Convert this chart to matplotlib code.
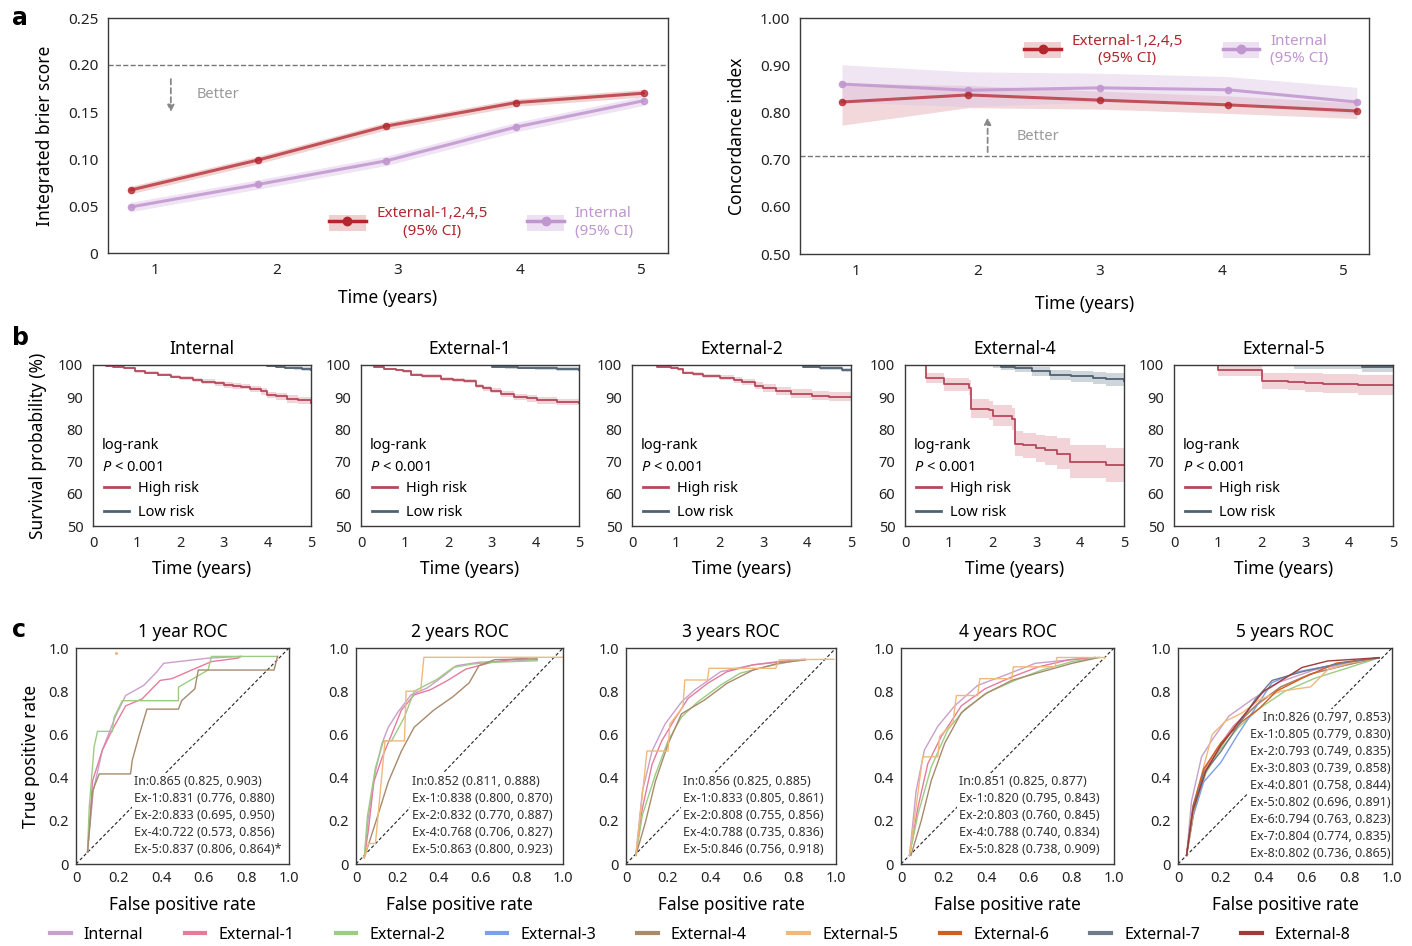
import matplotlib
matplotlib.use('Agg')
import matplotlib.pyplot as plt
from matplotlib.patches import Patch
from matplotlib.lines import Line2D

W, H = 1412, 946
plt.rcParams['font.family'] = ['Noto Sans', 'DejaVu Sans']
plt.rcParams['font.size'] = 11
plt.rcParams['mathtext.fontset'] = 'custom'
plt.rcParams['mathtext.it'] = 'Noto Sans:italic'
plt.rcParams['mathtext.rm'] = 'Noto Sans'

# ---- panel a : integrated brier score / concordance index ----
ibs_time = [0.8, 1.85, 2.9, 3.97, 5.02]
ibs_ext = [0.067, 0.099, 0.135, 0.160, 0.170]
ibs_ext_lo = [0.063, 0.095, 0.131, 0.156, 0.166]
ibs_ext_hi = [0.071, 0.103, 0.139, 0.164, 0.174]
ibs_int = [0.049, 0.073, 0.098, 0.134, 0.162]
ibs_int_lo = [0.044, 0.068, 0.093, 0.129, 0.157]
ibs_int_hi = [0.054, 0.078, 0.103, 0.139, 0.167]

cidx_time = [0.885, 1.92, 3.0, 4.05, 5.11]
cidx_ext = [0.822, 0.837, 0.826, 0.816, 0.803]
cidx_ext_lo = [0.773, 0.810, 0.807, 0.798, 0.787]
cidx_ext_hi = [0.862, 0.857, 0.845, 0.835, 0.820]
cidx_int = [0.860, 0.847, 0.852, 0.848, 0.822]
cidx_int_lo = [0.822, 0.812, 0.822, 0.822, 0.795]
cidx_int_hi = [0.901, 0.886, 0.883, 0.876, 0.853]

# ---- panel b : Kaplan-Meier curves (time, survival %, CI half width) ----
km_titles = ['Internal', 'External-1', 'External-2', 'External-4', 'External-5']
km_high_t = [
    [0, 0.3, 0.45, 0.7, 0.96, 1.2, 1.5, 1.8, 2.0, 2.3, 2.5, 2.8, 3.0, 3.2, 3.4, 3.6, 3.85, 4.0, 4.2, 4.46, 4.7, 5.0],
    [0, 0.3, 0.53, 0.8, 0.96, 1.14, 1.4, 1.84, 2.1, 2.37, 2.63, 2.8, 2.98, 3.2, 3.5, 3.8, 4.04, 4.5, 5.0],
    [0, 0.57, 0.9, 1.04, 1.16, 1.4, 1.63, 2.0, 2.34, 2.5, 2.81, 3.0, 3.29, 3.64, 4.1, 4.5, 5.0],
    [0, 0.47, 0.9, 1.45, 1.5, 1.92, 2.0, 2.45, 2.5, 2.7, 2.98, 3.2, 3.46, 3.76, 4.4, 4.6, 5.0],
    [0, 1.0, 2.0, 2.6, 3.0, 3.4, 4.2, 5.0],
]
km_high_s = [
    [100, 99.7, 99.4, 99.0, 98.0, 97.6, 97.0, 96.4, 95.9, 95.3, 94.8, 94.3, 93.8, 93.5, 93.3, 92.6, 91.8, 90.7, 90.3, 89.5, 89.0, 88.1],
    [100, 99.4, 98.7, 98.5, 98.0, 97.0, 96.6, 95.7, 95.4, 95.0, 93.5, 92.8, 92.0, 91.0, 90.0, 89.6, 89.0, 88.5, 88.3],
    [100, 99.5, 99.2, 98.7, 97.6, 97.2, 96.6, 96.0, 95.3, 94.8, 93.5, 92.8, 92.0, 91.0, 90.5, 90.2, 90.0],
    [100, 96.0, 94.0, 93.0, 86.4, 85.9, 84.3, 83.3, 75.6, 75.0, 74.1, 73.5, 72.5, 70.0, 70.0, 69.0, 69.0],
    [100, 98.3, 95.1, 94.8, 94.5, 94.2, 93.8, 93.8],
]
km_high_ci = [
    [0, 0.2, 0.3, 0.35, 0.4, 0.45, 0.5, 0.55, 0.6, 0.65, 0.7, 0.75, 0.8, 0.85, 0.9, 0.95, 1.0, 1.05, 1.1, 1.15, 1.2, 1.2],
    [0, 0.2, 0.3, 0.35, 0.4, 0.45, 0.5, 0.55, 0.6, 0.65, 0.7, 0.8, 0.85, 0.9, 0.95, 1.0, 1.0, 1.05, 1.1],
    [0, 0.3, 0.4, 0.45, 0.55, 0.6, 0.7, 0.8, 0.9, 1.0, 1.1, 1.2, 1.3, 1.4, 1.5, 1.5, 1.5],
    [0, 1.5, 2.0, 2.3, 3.0, 3.0, 3.3, 3.5, 4.0, 4.0, 4.3, 4.5, 4.8, 5.0, 5.0, 5.2, 5.2],
    [0, 1.7, 2.5, 2.7, 2.9, 3.0, 3.2, 3.2],
]
km_low_t = [
    [0, 3.8, 4.0, 4.2, 4.4, 4.6, 4.8, 5.0],
    [0, 2.9, 3.0, 3.3, 3.6, 4.0, 4.5, 5.0],
    [0, 3.5, 3.9, 4.3, 4.8, 5.0],
    [0, 2.0, 2.2, 2.5, 2.9, 3.3, 3.8, 4.3, 4.6, 5.0],
    [0, 2.75, 4.3, 5.0],
]
km_low_s = [
    [100, 100, 99.8, 99.5, 99.2, 99.0, 98.8, 98.5],
    [100, 100, 99.5, 99.3, 99.2, 99.0, 98.7, 98.5],
    [100, 100, 99.5, 99.0, 98.5, 98.5],
    [100, 100, 99.5, 99.0, 98.0, 97.0, 96.5, 96.0, 95.5, 95.0],
    [100, 100, 99.3, 99.3],
]
km_low_ci = [
    [0, 0.3, 0.4, 0.5, 0.55, 0.6, 0.65, 0.7],
    [0, 0.3, 0.4, 0.45, 0.5, 0.55, 0.6, 0.65],
    [0, 0.4, 0.5, 0.6, 0.7, 0.7],
    [0, 1.0, 1.2, 1.3, 1.5, 1.6, 1.7, 1.8, 1.9, 2.0],
    [0, 1.2, 1.6, 1.6],
]

# ---- panel c : time-dependent ROC curves ----
roc_titles = ['1 year ROC', '2 years ROC', '3 years ROC', '4 years ROC', '5 years ROC']
cohorts = ['Internal', 'External-1', 'External-2', 'External-3', 'External-4',
           'External-5', 'External-6', 'External-7', 'External-8']
cohort_colors = ['#c8a0cc', '#e57c9c', '#9ccc84', '#7b9fe8', '#a88a6c',
                 '#f0b97c', '#d2601c', '#6f7a8a', '#9e3b3b']

roc1_in = ([0.054, 0.081, 0.124, 0.186, 0.233, 0.318, 0.380, 0.411, 0.620, 0.775],
           [0.055, 0.339, 0.528, 0.685, 0.780, 0.827, 0.890, 0.929, 0.953, 0.961])
roc1_ex1 = ([0.054, 0.078, 0.124, 0.171, 0.233, 0.310, 0.395, 0.450, 0.543, 0.636, 0.760, 0.775],
            [0.055, 0.386, 0.528, 0.622, 0.732, 0.764, 0.850, 0.858, 0.898, 0.937, 0.953, 0.961])
roc1_ex2 = ([0.054, 0.062, 0.085, 0.101, 0.171, 0.178, 0.217, 0.481, 0.481, 0.620, 0.636, 0.946],
            [0.055, 0.260, 0.543, 0.614, 0.614, 0.677, 0.756, 0.756, 0.819, 0.898, 0.961, 0.961])
roc1_ex4 = ([0.054, 0.078, 0.109, 0.256, 0.264, 0.295, 0.333, 0.481, 0.496, 0.558, 0.574, 0.930, 0.946],
            [0.055, 0.339, 0.417, 0.417, 0.480, 0.591, 0.717, 0.717, 0.756, 0.811, 0.898, 0.898, 0.961])
roc1_ex5 = ([0.19], [0.975])

roc2_in = ([0.04, 0.06, 0.094, 0.125, 0.156, 0.203, 0.266, 0.344, 0.422, 0.484, 0.594, 0.78, 0.875],
           [0.03, 0.22, 0.43, 0.557, 0.633, 0.704, 0.783, 0.815, 0.87, 0.918, 0.934, 0.941, 0.946])
roc2_ex1 = ([0.04, 0.06, 0.086, 0.125, 0.172, 0.219, 0.281, 0.36, 0.4375, 0.53, 0.656, 0.78, 0.83],
            [0.03, 0.158, 0.38, 0.49, 0.60, 0.712, 0.783, 0.807, 0.847, 0.902, 0.934, 0.95, 0.953])
roc2_ex2 = ([0.04, 0.055, 0.094, 0.133, 0.172, 0.234, 0.281, 0.39, 0.47, 0.5625, 0.67, 0.875],
            [0.03, 0.22, 0.446, 0.57, 0.57, 0.68, 0.80, 0.854, 0.91, 0.926, 0.934, 0.941])
roc2_ex4 = ([0.04, 0.094, 0.156, 0.219, 0.281, 0.375, 0.469, 0.547, 0.594, 0.67, 0.875],
            [0.03, 0.19, 0.38, 0.522, 0.633, 0.712, 0.775, 0.839, 0.918, 0.946, 0.95])
roc2_ex5 = ([0.04, 0.06, 0.094, 0.14, 0.234, 0.242, 0.3125, 0.32, 0.328, 1.0],
            [0.03, 0.095, 0.095, 0.57, 0.57, 0.80, 0.80, 0.878, 0.957, 0.957])

roc3_in = ([0.047, 0.078, 0.124, 0.186, 0.264, 0.326, 0.45, 0.605, 0.76, 0.853],
           [0.04, 0.336, 0.523, 0.648, 0.75, 0.805, 0.89, 0.922, 0.9375, 0.945])
roc3_ex1 = ([0.047, 0.078, 0.124, 0.17, 0.233, 0.295, 0.388, 0.48, 0.605, 0.729, 0.853],
            [0.04, 0.258, 0.461, 0.57, 0.672, 0.766, 0.836, 0.89, 0.922, 0.9375, 0.948])
roc3_ex2 = ([0.047, 0.078, 0.14, 0.2, 0.264, 0.341, 0.45, 0.543, 0.667, 0.822],
            [0.04, 0.227, 0.414, 0.57, 0.68, 0.75, 0.828, 0.883, 0.914, 0.945])
roc3_ex4 = ([0.047, 0.093, 0.14, 0.2, 0.264, 0.372, 0.48, 0.605, 0.729, 0.853],
            [0.04, 0.195, 0.383, 0.555, 0.695, 0.758, 0.836, 0.898, 0.93, 0.945])
roc3_ex5 = ([0.047, 0.1, 0.2, 0.209, 0.271, 0.28, 0.388, 0.395, 0.713, 0.729, 0.99],
            [0.04, 0.523, 0.523, 0.648, 0.727, 0.852, 0.852, 0.906, 0.906, 0.945, 0.948])

roc4_in = ([0.04, 0.071, 0.11, 0.173, 0.252, 0.36, 0.488, 0.63, 0.787, 0.913],
           [0.04, 0.339, 0.528, 0.638, 0.732, 0.827, 0.874, 0.929, 0.945, 0.956])
roc4_ex1 = ([0.04, 0.079, 0.126, 0.189, 0.283, 0.394, 0.52, 0.646, 0.787, 0.913],
            [0.04, 0.26, 0.465, 0.59, 0.732, 0.811, 0.866, 0.913, 0.945, 0.956])
roc4_ex2 = ([0.04, 0.079, 0.142, 0.22, 0.3, 0.409, 0.535, 0.661, 0.803, 0.929],
            [0.04, 0.228, 0.449, 0.622, 0.717, 0.795, 0.85, 0.898, 0.937, 0.956])
roc4_ex4 = ([0.047, 0.094, 0.142, 0.205, 0.283, 0.394, 0.52, 0.661, 0.803, 0.929],
            [0.04, 0.197, 0.386, 0.559, 0.70, 0.787, 0.85, 0.89, 0.929, 0.956])
roc4_ex5 = ([0.04, 0.102, 0.173, 0.181, 0.244, 0.26, 0.36, 0.37, 0.52, 0.528, 0.724, 0.732, 0.96],
            [0.04, 0.496, 0.496, 0.59, 0.654, 0.78, 0.78, 0.858, 0.858, 0.913, 0.913, 0.956, 0.956])

roc5_in = ([0.04, 0.063, 0.11, 0.16, 0.238, 0.35, 0.476, 0.635, 0.794, 0.937],
           [0.04, 0.29, 0.496, 0.575, 0.685, 0.764, 0.843, 0.898, 0.929, 0.956])
roc5_ex1 = ([0.04, 0.07, 0.12, 0.18, 0.26, 0.36, 0.48, 0.62, 0.78, 0.94],
            [0.04, 0.25, 0.43, 0.53, 0.64, 0.73, 0.82, 0.88, 0.92, 0.955])
roc5_ex2 = ([0.04, 0.075, 0.13, 0.19, 0.28, 0.38, 0.5, 0.64, 0.8, 0.94],
            [0.04, 0.24, 0.42, 0.52, 0.63, 0.72, 0.80, 0.86, 0.91, 0.955])
roc5_ex3 = ([0.04, 0.07, 0.12, 0.2, 0.28, 0.36, 0.44, 0.56, 0.72, 0.94],
            [0.04, 0.22, 0.38, 0.47, 0.6, 0.72, 0.84, 0.89, 0.92, 0.955])
roc5_ex4 = ([0.04, 0.075, 0.12, 0.19, 0.27, 0.37, 0.48, 0.62, 0.78, 0.94],
            [0.04, 0.25, 0.42, 0.53, 0.64, 0.74, 0.82, 0.88, 0.92, 0.955])
roc5_ex5 = ([0.04, 0.08, 0.12, 0.16, 0.22, 0.3, 0.38, 0.48, 0.62, 0.7, 0.8, 0.94],
            [0.04, 0.3, 0.45, 0.6, 0.66, 0.7, 0.76, 0.8, 0.82, 0.9, 0.93, 0.955])
roc5_ex6 = ([0.04, 0.07, 0.12, 0.2, 0.3, 0.38, 0.46, 0.58, 0.74, 0.94],
            [0.04, 0.27, 0.44, 0.56, 0.66, 0.72, 0.8, 0.86, 0.93, 0.955])
roc5_ex7 = ([0.04, 0.07, 0.12, 0.2, 0.28, 0.36, 0.44, 0.58, 0.76, 0.94],
            [0.04, 0.26, 0.42, 0.52, 0.64, 0.76, 0.85, 0.89, 0.93, 0.955])
roc5_ex8 = ([0.04, 0.07, 0.13, 0.2, 0.3, 0.4, 0.5, 0.58, 0.7, 0.94],
            [0.04, 0.25, 0.43, 0.55, 0.68, 0.8, 0.86, 0.91, 0.94, 0.955])

roc_curves = [
    [(0, roc1_in), (1, roc1_ex1), (2, roc1_ex2), (4, roc1_ex4), (5, roc1_ex5)],
    [(0, roc2_in), (1, roc2_ex1), (2, roc2_ex2), (4, roc2_ex4), (5, roc2_ex5)],
    [(0, roc3_in), (1, roc3_ex1), (2, roc3_ex2), (4, roc3_ex4), (5, roc3_ex5)],
    [(0, roc4_in), (1, roc4_ex1), (2, roc4_ex2), (4, roc4_ex4), (5, roc4_ex5)],
    [(0, roc5_in), (1, roc5_ex1), (2, roc5_ex2), (3, roc5_ex3), (4, roc5_ex4),
     (5, roc5_ex5), (6, roc5_ex6), (7, roc5_ex7), (8, roc5_ex8)],
]
roc_auc_text = [
    ['In:0.865 (0.825, 0.903)', 'Ex-1:0.831 (0.776, 0.880)', 'Ex-2:0.833 (0.695, 0.950)',
     'Ex-4:0.722 (0.573, 0.856)', 'Ex-5:0.837 (0.806, 0.864)*'],
    ['In:0.852 (0.811, 0.888)', 'Ex-1:0.838 (0.800, 0.870)', 'Ex-2:0.832 (0.770, 0.887)',
     'Ex-4:0.768 (0.706, 0.827)', 'Ex-5:0.863 (0.800, 0.923)'],
    ['In:0.856 (0.825, 0.885)', 'Ex-1:0.833 (0.805, 0.861)', 'Ex-2:0.808 (0.755, 0.856)',
     'Ex-4:0.788 (0.735, 0.836)', 'Ex-5:0.846 (0.756, 0.918)'],
    ['In:0.851 (0.825, 0.877)', 'Ex-1:0.820 (0.795, 0.843)', 'Ex-2:0.803 (0.760, 0.845)',
     'Ex-4:0.788 (0.740, 0.834)', 'Ex-5:0.828 (0.738, 0.909)'],
    ['In:0.826 (0.797, 0.853)', 'Ex-1:0.805 (0.779, 0.830)', 'Ex-2:0.793 (0.749, 0.835)',
     'Ex-3:0.803 (0.739, 0.858)', 'Ex-4:0.801 (0.758, 0.844)', 'Ex-5:0.802 (0.696, 0.891)',
     'Ex-6:0.794 (0.763, 0.823)', 'Ex-7:0.804 (0.774, 0.835)', 'Ex-8:0.802 (0.736, 0.865)'],
]

RED = '#b3262e'
RED_BAND = '#efcfcf'
LAV = '#c096cf'
LAV_BAND = '#eee0f3'
HIGH = '#b5495b'
HIGH_BAND = '#e9b6bf'
LOW = '#4f6272'
LOW_BAND = '#aebcc4'
SPINE = '#3a3a3a'
TXT = '#222222'


def rect(l, r, t, b):
    return [l / W, 1 - b / H, (r - l) / W, (b - t) / H]


def style(ax, size=11):
    for s in ax.spines.values():
        s.set_color(SPINE)
        s.set_linewidth(1.0)
    ax.tick_params(length=0, labelsize=size, colors=TXT, pad=7)


def panel_letter(letter, py):
    fig.text(12 / W, 1 - py / H, letter, fontsize=17, fontweight='bold',
             family='DejaVu Sans', va='center')


fig = plt.figure(figsize=(W / 100, H / 100), dpi=100)

# ================= panel a =================
ax1 = fig.add_axes(rect(108, 668, 18, 253))
style(ax1)
ax1.fill_between(ibs_time, ibs_ext_lo, ibs_ext_hi, color=RED_BAND, alpha=0.9, lw=0)
ax1.fill_between(ibs_time, ibs_int_lo, ibs_int_hi, color=LAV_BAND, alpha=0.9, lw=0)
ax1.plot(ibs_time, ibs_ext, color=RED, lw=2.2, marker='o', ms=4.5, alpha=0.75)
ax1.plot(ibs_time, ibs_int, color=LAV, lw=2.2, marker='o', ms=4.5, alpha=0.85)
ax1.axhline(0.20, ls='--', color='#777777', lw=1.0)
ax1.set_xlim(0.613, 5.22)
ax1.set_ylim(0, 0.25)
ax1.set_xticks([1, 2, 3, 4, 5])
ax1.set_yticks([0, 0.05, 0.10, 0.15, 0.20, 0.25])
ax1.set_yticklabels(['0', '0.05', '0.10', '0.15', '0.20', '0.25'])
ax1.set_xlabel('Time (years)', fontsize=12.5, labelpad=8)
ax1.set_ylabel('Integrated brier score', fontsize=12.5, labelpad=10)
ax1.annotate('', xy=(1.13, 0.147), xytext=(1.13, 0.188),
             arrowprops=dict(arrowstyle='-|>', ls=(0, (3, 2)), color='#888888', lw=1.3, mutation_scale=10))
ax1.text(1.34, 0.169, 'Better', color='#999999', fontsize=10.5, va='center')

h_ext = (Patch(facecolor=RED_BAND, edgecolor='none'), Line2D([], [], color=RED, lw=2.5, marker='o', ms=6))
h_int = (Patch(facecolor=LAV_BAND, edgecolor='none'), Line2D([], [], color=LAV, lw=2.5, marker='o', ms=6))
leg = ax1.legend([h_ext, h_int], ['External-1,2,4,5\n(95% CI)', 'Internal\n(95% CI)'],
                 ncol=2, loc='center left', bbox_to_anchor=(0.37, 0.13), frameon=False,
                 handlelength=2.4, handleheight=1.2, handletextpad=0.7, columnspacing=2.6,
                 fontsize=11, labelcolor=[RED, LAV])
leg.get_texts()[0].set_multialignment('center')

ax2 = fig.add_axes(rect(800, 1369, 18, 254))
style(ax2)
ax2.fill_between(cidx_time, cidx_ext_lo, cidx_ext_hi, color=HIGH_BAND, alpha=0.55, lw=0)
ax2.fill_between(cidx_time, cidx_int_lo, cidx_int_hi, color='#dcc6e6', alpha=0.45, lw=0)
ax2.plot(cidx_time, cidx_int, color=LAV, lw=2.2, marker='o', ms=4.5, alpha=0.85)
ax2.plot(cidx_time, cidx_ext, color=RED, lw=2.2, marker='o', ms=4.5, alpha=0.75)
ax2.axhline(0.708, ls='--', color='#777777', lw=1.0)
ax2.set_xlim(0.54, 5.21)
ax2.set_ylim(0.5, 1.0)
ax2.set_xticks([1, 2, 3, 4, 5])
ax2.set_yticks([0.5, 0.6, 0.7, 0.8, 0.9, 1.0])
ax2.set_yticklabels(['0.50', '0.60', '0.70', '0.80', '0.90', '1.00'])
ax2.set_xlabel('Time (years)', fontsize=12.5, labelpad=12)
ax2.set_ylabel('Concordance index', fontsize=12.5, labelpad=10)
ax2.annotate('', xy=(2.08, 0.795), xytext=(2.08, 0.71),
             arrowprops=dict(arrowstyle='-|>', ls=(0, (3, 2)), color='#888888', lw=1.3, mutation_scale=10))
ax2.text(2.32, 0.75, 'Better', color='#999999', fontsize=10.5, va='center')
leg = ax2.legend([h_ext, h_int], ['External-1,2,4,5\n(95% CI)', 'Internal\n(95% CI)'],
                 ncol=2, loc='center left', bbox_to_anchor=(0.37, 0.865), frameon=False,
                 handlelength=2.4, handleheight=1.2, handletextpad=0.7, columnspacing=2.6,
                 fontsize=11, labelcolor=[RED, LAV])
leg.get_texts()[0].set_multialignment('center')

panel_letter('a', 18)

# ================= panel b =================
b_cols = [(93, 311), (361, 579), (632, 851), (905, 1124), (1174, 1393)]
for i, (l, r) in enumerate(b_cols):
    ax = fig.add_axes(rect(l, r, 365, 526))
    style(ax, 10.5)
    ht, hs, hc = km_high_t[i], km_high_s[i], km_high_ci[i]
    lt, ls_, lc = km_low_t[i], km_low_s[i], km_low_ci[i]
    ax.fill_between(lt, [s - c for s, c in zip(ls_, lc)], [s + c for s, c in zip(ls_, lc)],
                    step='post', color=LOW_BAND, alpha=0.6, lw=0)
    ax.fill_between(ht, [s - c for s, c in zip(hs, hc)], [s + c for s, c in zip(hs, hc)],
                    step='post', color=HIGH_BAND, alpha=0.6, lw=0)
    ax.step(lt, ls_, where='post', color=LOW, lw=1.3)
    ax.step(ht, hs, where='post', color=HIGH, lw=1.3)
    ax.set_xlim(0, 5)
    ax.set_ylim(50, 100)
    ax.set_xticks([0, 1, 2, 3, 4, 5])
    ax.set_yticks([50, 60, 70, 80, 90, 100])
    ax.set_title(km_titles[i], fontsize=12.5, pad=8)
    ax.set_xlabel('Time (years)', fontsize=12.5, labelpad=7)
    ax.text(0.04, 0.5, 'log-rank', transform=ax.transAxes, fontsize=10.5, va='center')
    ax.text(0.04, 0.365, r'$\it{P}$ < 0.001', transform=ax.transAxes, fontsize=10.5, va='center')
    ax.legend([Line2D([], [], color=HIGH, lw=2), Line2D([], [], color=LOW, lw=2)],
              ['High risk', 'Low risk'], loc='lower left', bbox_to_anchor=(-0.005, -0.04),
              frameon=False, fontsize=10.5, handlelength=1.7, handletextpad=0.6,
              labelspacing=0.62, borderpad=0.35)
    if i == 0:
        ax.set_ylabel('Survival probability (%)', fontsize=12.5, labelpad=8)

panel_letter('b', 338)

# ================= panel c =================
c_cols = [(76, 289), (356, 563), (626, 836), (901, 1114), (1178, 1392)]
for i, (l, r) in enumerate(c_cols):
    ax = fig.add_axes(rect(l, r, 648, 864))
    style(ax, 10.5)
    ax.axline((0, 0), slope=1, color='#222222', ls=(0, (3, 2)), lw=0.8, zorder=1)
    for k, (fx, fy) in roc_curves[i]:
        if len(fx) == 1:
            ax.plot(fx, fy, ls='none', marker='.', ms=2.5, color=cohort_colors[k], zorder=2)
        else:
            ax.plot(fx, fy, color=cohort_colors[k], lw=1.0, zorder=2)
    if i < 4:
        ax.text(0.272, 0.41, '\n'.join(roc_auc_text[i]), transform=ax.transAxes,
                ha='left', va='top', fontsize=9, linespacing=1.4, color='#333333',
                zorder=1.5, bbox=dict(fc='white', ec='none', pad=1.5))
    else:
        ax.text(0.995, 0.71, '\n'.join(roc_auc_text[i]), transform=ax.transAxes,
                ha='right', va='top', fontsize=9, linespacing=1.4, color='#333333',
                multialignment='right', zorder=1.5, bbox=dict(fc='white', ec='none', pad=1.5))
    ax.set_xlim(0, 1)
    ax.set_ylim(0, 1)
    ticks = [0, 0.2, 0.4, 0.6, 0.8, 1.0]
    tlabels = ['0', '0.2', '0.4', '0.6', '0.8', '1.0']
    ax.set_xticks(ticks)
    ax.set_xticklabels(tlabels)
    ax.set_yticks(ticks)
    ax.set_yticklabels(tlabels)
    ax.tick_params(pad=5)
    ax.set_title(roc_titles[i], fontsize=12.5, pad=8)
    ax.set_xlabel('False positive rate', fontsize=12.5, labelpad=7)
    if i == 0:
        ax.set_ylabel('True positive rate', fontsize=12.5, labelpad=6)

panel_letter('c', 630)

handles = [Line2D([], [], color=c, lw=3) for c in cohort_colors]
fig.legend(handles, cohorts, loc='center', bbox_to_anchor=(0.496, 1 - 935 / H), ncol=9,
           frameon=False, fontsize=11.5, handlelength=1.3, handletextpad=0.8, columnspacing=2.6)

fig.savefig('out.png', dpi=100, facecolor='white')
